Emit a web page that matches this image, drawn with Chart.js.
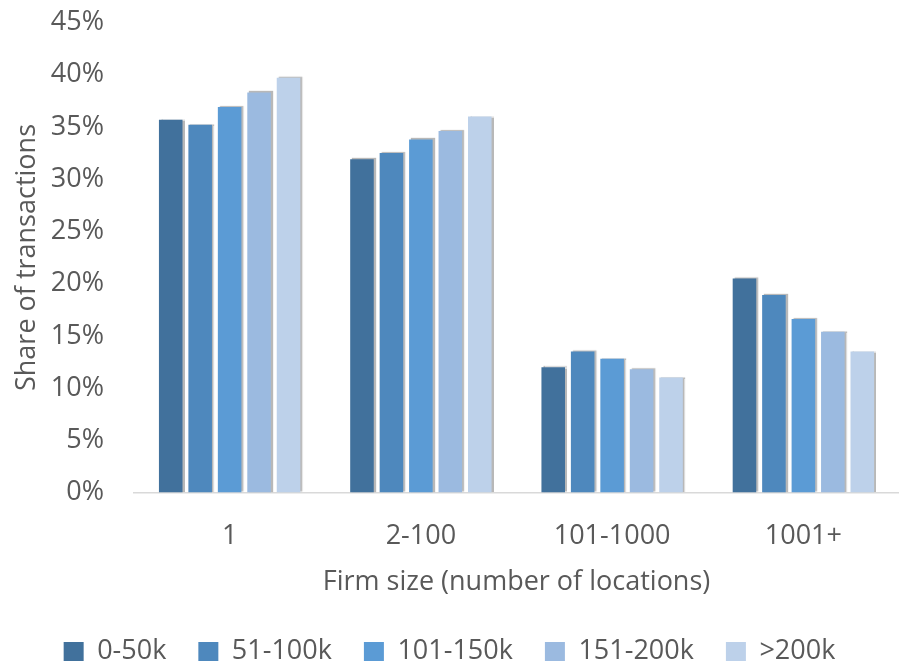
<!DOCTYPE html>
<html>
<head>
<meta charset="utf-8">
<script src="https://cdn.jsdelivr.net/npm/chart.js@4/dist/chart.umd.min.js"></script>
<style>
    html, body { margin: 0; padding: 0; background: #ffffff; }
    #chart_box { width: 899px; height: 665px; }
</style>
</head>
<body>
<div id="chart_box">
    <canvas id="share_chart" width="899" height="665"></canvas>
</div>
<script>
// firm size groups on the x axis
let firm_sizes = ['1', '2-100', '101-1000', '1001+'];

// one series per income band, share of transactions in %
let band_names = ['0-50k', '51-100k', '101-150k', '151-200k', '>200k'];
let band_0_50k = [35.7, 31.9, 12.0, 20.5];
let band_51_100k = [35.2, 32.5, 13.5, 18.9];
let band_101_150k = [36.9, 33.8, 12.8, 16.6];
let band_151_200k = [38.3, 34.6, 11.8, 15.4];
let band_200k_plus = [39.7, 36.0, 11.0, 13.5];

let band_colors = ['#41719C', '#4E88BD', '#5B9BD5', '#9BBAE0', '#BDD1EA'];

let y_ticks = [0, 5, 10, 15, 20, 25, 30, 35, 40, 45];

let text_color = '#595959';
let font_family = '"Open Sans", "Noto Sans", sans-serif';
let font_size = 27;

let series_list = [band_0_50k, band_51_100k, band_101_150k, band_151_200k, band_200k_plus];

// soft grey drop shadow behind the bars, like the office chart style
const bar_shadow = {
    id: 'bar_shadow',
    beforeDatasetsDraw(chart) {
        let ctx = chart.ctx;
        ctx.save();
        ctx.shadowColor = 'rgba(0, 0, 0, 0.28)';
        ctx.shadowOffsetX = 2;
        ctx.shadowOffsetY = -1;
        ctx.shadowBlur = 1;
    },
    afterDatasetsDraw(chart) {
        chart.ctx.restore();
    }
};

// legend adds 10px of slack below the row, drop it
const tight_legend = {
    id: 'tight_legend',
    beforeInit(chart) {
        let legend = chart.legend;
        if (!legend) return;
        let orig_fit = legend.fit;
        legend.fit = function () {
            orig_fit.call(this);
            this.height -= 10;
        };
    }
};

function attach_Chart(canvas_id) {
    let ctx = document.getElementById(canvas_id).getContext('2d');

    const data = {
        labels: firm_sizes,
        datasets: series_list.map((values, i) => ({
            label: band_names[i],
            data: values,
            backgroundColor: band_colors[i],
            borderWidth: 0,
            categoryPercentage: 0.77,
            barPercentage: 0.8
        }))
    };

    const config = {
        type: 'bar',
        data: data,
        plugins: [bar_shadow, tight_legend],
        options: {
            responsive: false,
            animation: false,
            layout: {
                padding: { top: 22.5, right: 0, bottom: 0, left: 0 }
            },
            plugins: {
                legend: {
                    position: 'bottom',
                    labels: {
                        color: text_color,
                        font: { family: font_family, size: font_size },
                        boxWidth: 20,
                        boxHeight: 19,
                        padding: 32
                    }
                },
                tooltip: { enabled: false }
            },
            scales: {
                x: {
                    grid: { display: false },
                    border: { color: '#D9D9D9', width: 1.5 },
                    ticks: {
                        color: text_color,
                        font: { family: font_family, size: font_size },
                        padding: 20
                    },
                    title: {
                        display: true,
                        text: 'Firm size (number of locations)',
                        color: text_color,
                        font: { family: font_family, size: font_size },
                        padding: { top: 4, bottom: 7 }
                    },
                    afterFit: (scale) => {
                        scale.height = 113.5;
                        scale.paddingLeft = 0;
                        scale.paddingRight = 0;
                    }
                },
                y: {
                    min: 0,
                    max: 45,
                    afterBuildTicks: (scale) => {
                        scale.ticks = y_ticks.map(v => ({ value: v }));
                    },
                    grid: { display: false },
                    border: { display: false },
                    ticks: {
                        color: text_color,
                        font: { family: font_family, size: font_size },
                        padding: 22,
                        callback: (v) => v + '%'
                    },
                    title: {
                        display: true,
                        text: 'Share of transactions',
                        color: text_color,
                        font: { family: font_family, size: font_size },
                        padding: { top: 11, bottom: 0 }
                    },
                    afterFit: (scale) => {
                        scale.width = 134;
                        scale.paddingTop = 0;
                        scale.paddingBottom = 0;
                    }
                }
            }
        }
    };

    return new Chart(ctx, config);
}

let chart_list = [];
chart_list.push(attach_Chart('share_chart'));
</script>
</body>
</html>
